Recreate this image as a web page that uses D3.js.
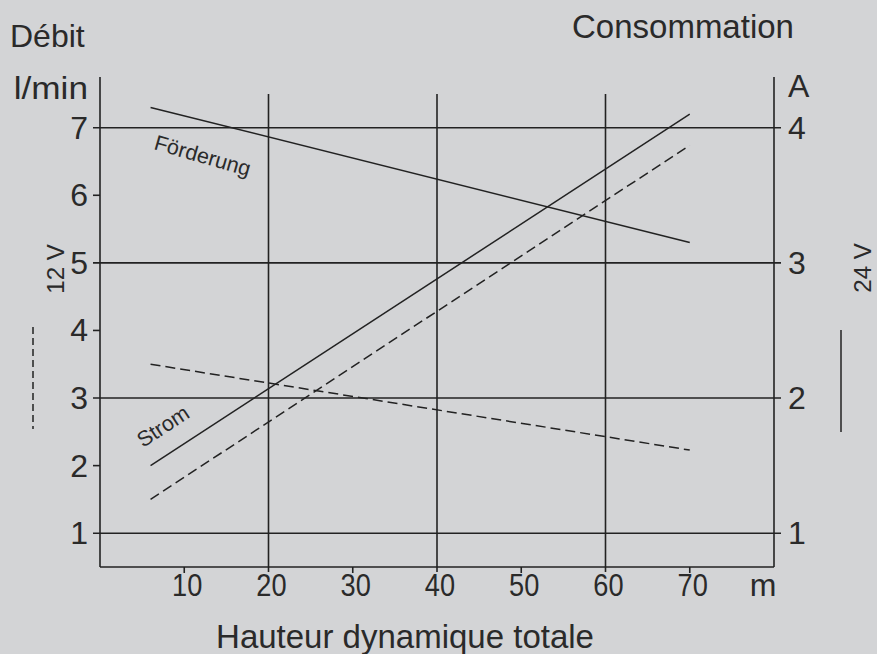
<!DOCTYPE html>
<html><head><meta charset="utf-8">
<script src="https://cdn.jsdelivr.net/npm/d3@7"></script>
<style>
html,body{margin:0;padding:0;background:#d3d4d6;}
svg{display:block;font-family:"Liberation Sans",Arial,sans-serif;}
</style></head>
<body>
<script>
// ---- data ----
const heights = [6, 70];                 // m
const flow24 = [7.3, 5.3];               // l/min, solid (Förderung)
const flow12 = [3.5, 2.23];              // l/min, dashed
const current24 = [1.5, 4.1];            // A, solid (Strom)
const current12 = [1.25, 3.87];          // A, dashed
const xTickLabels = [10, 20, 30, 40, 50, 60, 70];
const xGridValues = [20, 40, 60];
const leftTicks = [1, 2, 3, 4, 5, 6, 7];
const leftGrid = [1, 3, 5, 7];
const rightTicks = [1, 2, 3, 4];

const W = 877, H = 654, ink = "#222", txt = "#2a2a2a";
const svg = d3.select("body").append("svg").attr("width", W).attr("height", H);
svg.append("rect").attr("width", W).attr("height", H).attr("fill", "#d3d4d6");

const x = d3.scaleLinear().domain([0, 80]).range([100, 774]);
const yL = d3.scaleLinear().domain([0.5, 7.75]).range([567, 77]);
const yR = d3.scaleLinear().domain([0.75, 4.375]).range([567, 77]);

const g = svg.append("g").attr("stroke", ink).attr("stroke-width", 1.6).attr("fill", "none");

// horizontal grid lines
leftGrid.forEach(v => g.append("line").attr("x1", 93).attr("x2", 781).attr("y1", yL(v)).attr("y2", yL(v)));
// left small ticks
leftTicks.filter(v => !leftGrid.includes(v)).forEach(v =>
  g.append("line").attr("x1", 93).attr("x2", x(0)).attr("y1", yL(v)).attr("y2", yL(v)));
// vertical grid lines
xGridValues.forEach(v => g.append("line").attr("x1", x(v)).attr("x2", x(v)).attr("y1", 94).attr("y2", 572));
// bottom small ticks
xTickLabels.filter(v => !xGridValues.includes(v)).forEach(v =>
  g.append("line").attr("x1", x(v)).attr("x2", x(v)).attr("y1", 567).attr("y2", 573));
// axes frame
g.append("line").attr("x1", x(0)).attr("x2", x(0)).attr("y1", 77).attr("y2", 567);
g.append("line").attr("x1", x(80)).attr("x2", x(80)).attr("y1", 77).attr("y2", 567);
g.append("line").attr("x1", x(0)).attr("x2", x(80)).attr("y1", 567).attr("y2", 567);

// data lines
const lineL = d3.line().x((d, i) => x(heights[i])).y(d => yL(d));
const lineR = d3.line().x((d, i) => x(heights[i])).y(d => yR(d));
const dl = svg.append("g").attr("fill", "none").attr("stroke", ink).attr("stroke-width", 1.5);
dl.append("path").attr("d", lineL(flow24));
dl.append("path").attr("d", lineL(flow12)).attr("stroke-dasharray", "10,5");
dl.append("path").attr("d", lineR(current24));
dl.append("path").attr("d", lineR(current12)).attr("stroke-dasharray", "10,5");

// texts
const t = svg.append("g").attr("fill", txt);
t.append("text").attr("x", 10).attr("y", 47).attr("font-size", 32).text("Débit");
t.append("text").attr("x", 572).attr("y", 38).attr("font-size", 33).text("Consommation");
t.append("text").attr("transform", "translate(88,99) scale(1.1,1)").attr("font-size", 32)
  .attr("text-anchor", "end").text("l/min");
t.append("text").attr("x", 788).attr("y", 97).attr("font-size", 32).text("A");
leftTicks.forEach(v => t.append("text").attr("x", 88).attr("y", yL(v) + 11)
  .attr("font-size", 32).attr("text-anchor", "end").text(v));
rightTicks.forEach(v => t.append("text").attr("x", 788).attr("y", yR(v) + 11)
  .attr("font-size", 32).text(v));
xTickLabels.forEach(v => t.append("text")
  .attr("transform", `translate(${x(v) + 3},596) scale(0.85,1)`)
  .attr("font-size", 32).attr("text-anchor", "middle").text(v));
t.append("text").attr("transform", "translate(763,596)")
  .attr("font-size", 32).attr("text-anchor", "middle").text("m");
t.append("text").attr("transform", "translate(405,648)")
  .attr("font-size", 33).attr("text-anchor", "middle").text("Hauteur dynamique totale");

// voltage legends
t.append("text").attr("transform", "translate(64,269) rotate(-90)")
  .attr("font-size", 24).attr("text-anchor", "middle").text("12 V");
t.append("text").attr("transform", "translate(871,268) rotate(-90)")
  .attr("font-size", 24).attr("text-anchor", "middle").text("24 V");
svg.append("line").attr("x1", 33).attr("x2", 33).attr("y1", 327).attr("y2", 429)
  .attr("stroke", ink).attr("stroke-width", 1.5).attr("stroke-dasharray", "7,4");
svg.append("line").attr("x1", 841).attr("x2", 841).attr("y1", 330).attr("y2", 432)
  .attr("stroke", ink).attr("stroke-width", 1.5);

// curve labels
t.append("text").attr("transform", "translate(153,149) rotate(16)")
  .attr("font-size", 21.5).text("Förderung");
t.append("text").attr("transform", "translate(143,448) rotate(-33)")
  .attr("font-size", 21.5).text("Strom");
</script>
</body></html>
